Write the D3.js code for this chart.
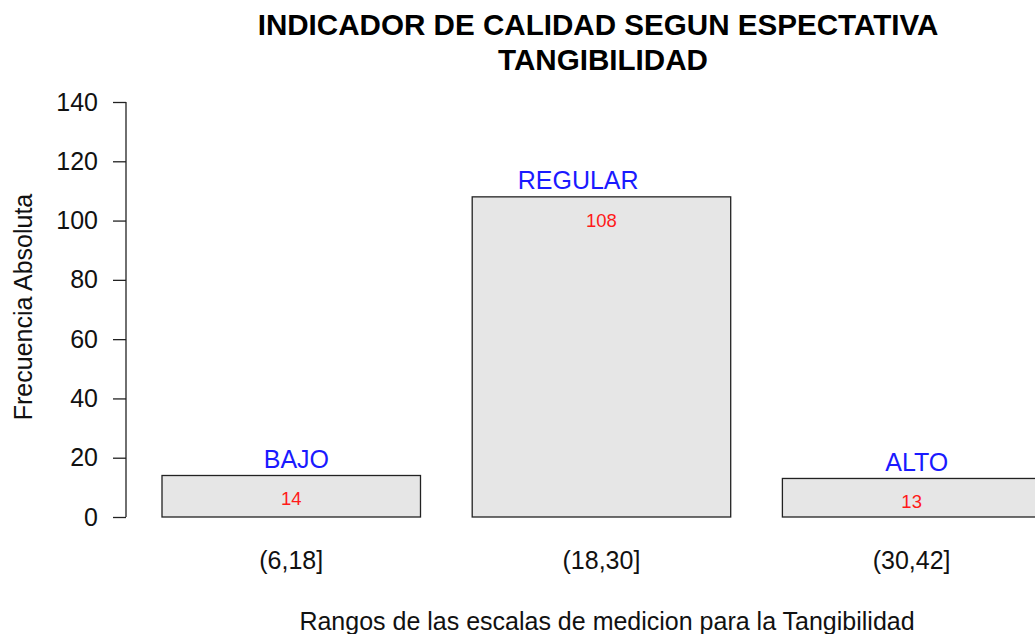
<!DOCTYPE html>
<html>
<head>
<meta charset="utf-8">
<title>Tangibilidad</title>
<script src="https://cdn.jsdelivr.net/npm/d3@7"></script>
<style>
  body { margin: 0; background: #fff; }
  text { font-family: "Liberation Sans", Arial, sans-serif; }
</style>
</head>
<body>
<svg id="chart" width="1035" height="634"></svg>
<script>
// data
var rangos = ["(6,18]", "(18,30]", "(30,42]"];
var frecuencias = [14, 108, 13];
var niveles = ["BAJO", "REGULAR", "ALTO"];
var nivelX = [0.72, 1.81, 3.12];   // where the level names sit, in barplot units
var yTicks = [0, 20, 40, 60, 80, 100, 120, 140];

var svg = d3.select("#chart");

// barplot units: width 1, space 0.2, so the centres are 0.7, 1.9, 3.1
var x = d3.scaleLinear().domain([0.2, 1.2]).range([162, 420.5]);
var y = d3.scaleLinear().domain([0, 140]).range([517, 102]);

var mids = rangos.map(function (d, i) { return 0.7 + i * 1.2; });

// bars
svg.selectAll("rect.bar")
    .data(frecuencias)
    .enter().append("rect")
    .attr("class", "bar")
    .attr("x", function (d, i) { return x(mids[i] - 0.5); })
    .attr("width", x(1.2) - x(0.2))
    .attr("y", function (d) { return y(d); })
    .attr("height", function (d) { return y(0) - y(d); })
    .attr("fill", "#e6e6e6")
    .attr("stroke", "#222")
    .attr("stroke-width", 1.3);

// y axis, R style
var yAxis = svg.append("g")
    .attr("transform", "translate(126,0)")
    .call(d3.axisLeft(y).tickValues(yTicks).tickSize(13).tickPadding(15));
yAxis.select(".domain").attr("d", "M0," + y(140) + "V" + y(0)).attr("stroke", "#222").attr("stroke-width", 1.3);
yAxis.selectAll(".tick line").attr("stroke", "#222").attr("stroke-width", 1.3);
yAxis.selectAll(".tick text")
    .attr("font-size", 25)
    .attr("font-family", "Liberation Sans, Arial, sans-serif")
    .attr("fill", "#111");

// category labels under the bars
svg.selectAll("text.cat")
    .data(rangos)
    .enter().append("text")
    .attr("class", "cat")
    .attr("x", function (d, i) { return x(mids[i]); })
    .attr("y", 569)
    .attr("text-anchor", "middle")
    .attr("font-size", 25)
    .attr("fill", "#111")
    .text(function (d) { return d; });

// level names above the bars
svg.selectAll("text.nivel")
    .data(niveles)
    .enter().append("text")
    .attr("class", "nivel")
    .attr("x", function (d, i) { return x(nivelX[i]); })
    .attr("y", function (d, i) { return y(frecuencias[i] + 2.6); })
    .attr("text-anchor", "middle")
    .attr("font-size", 25)
    .attr("fill", "#1a1aff")
    .text(function (d) { return d; });

// counts inside the bars
svg.selectAll("text.valor")
    .data(frecuencias)
    .enter().append("text")
    .attr("class", "valor")
    .attr("x", function (d, i) { return x(mids[i]); })
    .attr("y", function (d) { return y(d - 10); })
    .attr("text-anchor", "middle")
    .attr("font-size", 18.5)
    .attr("fill", "#ff1a1a")
    .text(function (d) { return d; });

// titles
svg.append("text")
    .attr("x", 598).attr("y", 35)
    .attr("text-anchor", "middle")
    .attr("font-size", 29.6).attr("font-weight", "bold")
    .text("INDICADOR DE CALIDAD SEGUN ESPECTATIVA");
svg.append("text")
    .attr("x", 603).attr("y", 70)
    .attr("text-anchor", "middle")
    .attr("font-size", 29.6).attr("font-weight", "bold")
    .text("TANGIBILIDAD");

svg.append("text")
    .attr("x", 607).attr("y", 630)
    .attr("text-anchor", "middle")
    .attr("font-size", 25).attr("fill", "#111")
    .text("Rangos de las escalas de medicion para la Tangibilidad");

svg.append("text")
    .attr("transform", "translate(32,307) rotate(-90)")
    .attr("text-anchor", "middle")
    .attr("font-size", 25).attr("fill", "#111")
    .text("Frecuencia Absoluta");
</script>
</body>
</html>
